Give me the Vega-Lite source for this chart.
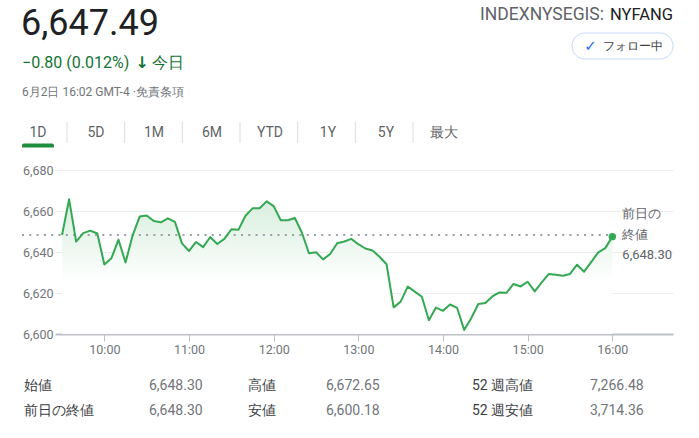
{
  "$schema": "https://vega.github.io/schema/vega-lite/v6.json",
  "width": 618,
  "height": 164,
  "autosize": {"type": "none"},
  "padding": {"left": 55, "top": 170, "right": 26, "bottom": 104},
  "background": "#ffffff",
  "config": {
    "view": {"stroke": null},
    "font": "Roboto"
  },
  "resolve": {"scale": {"x": "independent", "y": "independent"}, "axis": {"x": "independent", "y": "independent"}},
  "layer": [
    {
      "data": {
        "values": [
          {"t": "2023-06-02T09:30:00", "v": 6648.3}, {"t": "2023-06-02T09:35:00", "v": 6665.7}, {"t": "2023-06-02T09:40:00", "v": 6645.1}, {"t": "2023-06-02T09:45:00", "v": 6649.2},
          {"t": "2023-06-02T09:50:00", "v": 6650.4}, {"t": "2023-06-02T09:55:00", "v": 6649.0}, {"t": "2023-06-02T10:00:00", "v": 6633.9}, {"t": "2023-06-02T10:05:00", "v": 6637.0},
          {"t": "2023-06-02T10:10:00", "v": 6646.0}, {"t": "2023-06-02T10:15:00", "v": 6634.9}, {"t": "2023-06-02T10:20:00", "v": 6648.0}, {"t": "2023-06-02T10:25:00", "v": 6657.3},
          {"t": "2023-06-02T10:30:00", "v": 6657.8}, {"t": "2023-06-02T10:35:00", "v": 6655.1}, {"t": "2023-06-02T10:40:00", "v": 6654.5}, {"t": "2023-06-02T10:45:00", "v": 6656.4},
          {"t": "2023-06-02T10:50:00", "v": 6654.7}, {"t": "2023-06-02T10:55:00", "v": 6644.2}, {"t": "2023-06-02T11:00:00", "v": 6640.5}, {"t": "2023-06-02T11:05:00", "v": 6644.9},
          {"t": "2023-06-02T11:10:00", "v": 6642.4}, {"t": "2023-06-02T11:15:00", "v": 6647.3}, {"t": "2023-06-02T11:20:00", "v": 6643.9}, {"t": "2023-06-02T11:25:00", "v": 6646.4},
          {"t": "2023-06-02T11:30:00", "v": 6651.1}, {"t": "2023-06-02T11:35:00", "v": 6650.8}, {"t": "2023-06-02T11:40:00", "v": 6657.7}, {"t": "2023-06-02T11:45:00", "v": 6661.3},
          {"t": "2023-06-02T11:50:00", "v": 6661.3}, {"t": "2023-06-02T11:55:00", "v": 6664.7}, {"t": "2023-06-02T12:00:00", "v": 6662.4}, {"t": "2023-06-02T12:05:00", "v": 6655.5},
          {"t": "2023-06-02T12:10:00", "v": 6655.5}, {"t": "2023-06-02T12:15:00", "v": 6656.6}, {"t": "2023-06-02T12:20:00", "v": 6649.4}, {"t": "2023-06-02T12:25:00", "v": 6639.4},
          {"t": "2023-06-02T12:30:00", "v": 6639.9}, {"t": "2023-06-02T12:35:00", "v": 6636.4}, {"t": "2023-06-02T12:40:00", "v": 6639.0}, {"t": "2023-06-02T12:45:00", "v": 6644.3},
          {"t": "2023-06-02T12:50:00", "v": 6645.1}, {"t": "2023-06-02T12:55:00", "v": 6646.4}, {"t": "2023-06-02T13:00:00", "v": 6643.8}, {"t": "2023-06-02T13:05:00", "v": 6641.7},
          {"t": "2023-06-02T13:10:00", "v": 6640.7}, {"t": "2023-06-02T13:15:00", "v": 6637.7}, {"t": "2023-06-02T13:20:00", "v": 6634.0}, {"t": "2023-06-02T13:25:00", "v": 6613.0},
          {"t": "2023-06-02T13:30:00", "v": 6615.8}, {"t": "2023-06-02T13:35:00", "v": 6623.1}, {"t": "2023-06-02T13:40:00", "v": 6620.7}, {"t": "2023-06-02T13:45:00", "v": 6618.2},
          {"t": "2023-06-02T13:50:00", "v": 6606.7}, {"t": "2023-06-02T13:55:00", "v": 6612.9}, {"t": "2023-06-02T14:00:00", "v": 6611.3}, {"t": "2023-06-02T14:05:00", "v": 6614.4},
          {"t": "2023-06-02T14:10:00", "v": 6612.7}, {"t": "2023-06-02T14:15:00", "v": 6602.0}, {"t": "2023-06-02T14:20:00", "v": 6607.7}, {"t": "2023-06-02T14:25:00", "v": 6614.6},
          {"t": "2023-06-02T14:30:00", "v": 6615.1}, {"t": "2023-06-02T14:35:00", "v": 6618.3}, {"t": "2023-06-02T14:40:00", "v": 6620.3}, {"t": "2023-06-02T14:45:00", "v": 6620.1},
          {"t": "2023-06-02T14:50:00", "v": 6624.4}, {"t": "2023-06-02T14:55:00", "v": 6623.2}, {"t": "2023-06-02T15:00:00", "v": 6625.5}, {"t": "2023-06-02T15:05:00", "v": 6620.8},
          {"t": "2023-06-02T15:10:00", "v": 6625.2}, {"t": "2023-06-02T15:15:00", "v": 6629.3}, {"t": "2023-06-02T15:20:00", "v": 6628.9}, {"t": "2023-06-02T15:25:00", "v": 6628.4},
          {"t": "2023-06-02T15:30:00", "v": 6629.3}, {"t": "2023-06-02T15:35:00", "v": 6633.8}, {"t": "2023-06-02T15:40:00", "v": 6630.4}, {"t": "2023-06-02T15:45:00", "v": 6635.1},
          {"t": "2023-06-02T15:50:00", "v": 6639.8}, {"t": "2023-06-02T15:55:00", "v": 6641.9}, {"t": "2023-06-02T16:00:00", "v": 6647.49}
        ]
      },
      "encoding": {
        "x": {
          "field": "t", "type": "temporal",
          "scale": {"domain": ["2023-06-02T09:25:00", "2023-06-02T16:43:00"]},
          "axis": {"format": "%H:%M", "values": ["2023-06-02T10:00:00", "2023-06-02T11:00:00", "2023-06-02T12:00:00", "2023-06-02T13:00:00", "2023-06-02T14:00:00", "2023-06-02T15:00:00", "2023-06-02T16:00:00"],
                   "labelColor": "#70757a", "labelFontSize": 12.5,
                   "tickColor": "#bdc1c6", "tickSize": 7, "domainColor": "#bdc1c6", "domainWidth": 2, "grid": false,
                   "labelPadding": 2, "title": null, "labelFlush": false}
        },
        "y": {
          "field": "v", "type": "quantitative",
          "scale": {"domain": [6600, 6680], "zero": false, "nice": false},
          "axis": {"values": [6600, 6620, 6640, 6660, 6680], "format": ",d", "labelColor": "#70757a", "labelFontSize": 12.5,
                   "ticks": false, "domain": false, "grid": true, "gridColor": "#ececec", "gridWidth": 1, "labelPadding": 2, "title": null}
        }
      },
      "layer": [
        {
          "mark": {"type": "area", "fill": {"gradient": "linear", "x1": 0, "y1": 0, "x2": 0, "y2": 1,
                    "stops": [{"offset": 0, "color": "#d7eedd"}, {"offset": 0.62, "color": "#ffffff"}]}},
          "encoding": {"y2": {"datum": 6600}}
        },
        {
          "data": {"values": [{"from": "2023-06-02T09:01:36", "to": "2023-06-02T16:00:00", "prevClose": 6648.3}]},
          "mark": {"type": "rule", "stroke": "#9aa0a6", "strokeWidth": 2, "strokeDash": [2, 5.3]},
          "encoding": {
            "x": {"field": "from", "type": "temporal"},
            "x2": {"field": "to"},
            "y": {"field": "prevClose", "type": "quantitative"}
          }
        },
        {
          "mark": {"type": "line", "stroke": "#34a853", "strokeWidth": 2, "strokeJoin": "round"},
          "encoding": {}
        },
        {
          "transform": [{"filter": "datum.v == 6647.49"}],
          "mark": {"type": "circle", "size": 55, "color": "#34a853", "opacity": 1},
          "encoding": {}
        },
        {
          "data": {"values": [{"to": "2023-06-02T16:00:00", "prevClose": 6648.3, "label": "前日の"}]},
          "mark": {"type": "text", "align": "left", "baseline": "middle", "dx": 10, "dy": -20.5, "fontSize": 13, "color": "#5f6368"},
          "encoding": {"x": {"field": "to", "type": "temporal"}, "y": {"field": "prevClose", "type": "quantitative"}, "text": {"field": "label"}}
        },
        {
          "data": {"values": [{"to": "2023-06-02T16:00:00", "prevClose": 6648.3, "label": "終値"}]},
          "mark": {"type": "text", "align": "left", "baseline": "middle", "dx": 10, "fontSize": 13, "color": "#5f6368"},
          "encoding": {"x": {"field": "to", "type": "temporal"}, "y": {"field": "prevClose", "type": "quantitative"}, "text": {"field": "label"}}
        },
        {
          "data": {"values": [{"to": "2023-06-02T16:00:00", "prevClose": 6648.3, "label": "6,648.30"}]},
          "mark": {"type": "text", "align": "left", "baseline": "middle", "dx": 10, "dy": 20.5, "fontSize": 13, "color": "#5f6368"},
          "encoding": {"x": {"field": "to", "type": "temporal"}, "y": {"field": "prevClose", "type": "quantitative"}, "text": {"field": "label"}}
        }
      ]
    },
    {
      "data": {"values": [{}]},
      "layer": [
        {
          "mark": {"type": "text", "align": "left", "baseline": "alphabetic", "fontSize": 36, "color": "#202124"},
          "encoding": {
            "x": {"datum": 21, "type": "quantitative", "scale": {"domain": [0, 699], "range": [-55, 644], "nice": false, "zero": false}, "axis": null},
            "y": {"datum": 35, "type": "quantitative", "scale": {"domain": [0, 438], "range": [-170, 268], "nice": false, "zero": false}, "axis": null},
            "text": {"value": "6,647.49"}
          }
        },
        {
          "mark": {"type": "text", "align": "left", "baseline": "alphabetic", "fontSize": 16, "color": "#137333"},
          "encoding": {
            "x": {"datum": 22, "type": "quantitative", "scale": {"domain": [0, 699], "range": [-55, 644], "nice": false, "zero": false}, "axis": null},
            "y": {"datum": 68, "type": "quantitative", "scale": {"domain": [0, 438], "range": [-170, 268], "nice": false, "zero": false}, "axis": null},
            "text": {"value": "−0.80 (0.012%)"}
          }
        },
        {
          "mark": {"type": "text", "align": "center", "baseline": "middle", "fontSize": 16, "fontWeight": "bold", "font": "DejaVu Sans", "color": "#137333"},
          "encoding": {
            "x": {"datum": 142, "type": "quantitative", "scale": {"domain": [0, 699], "range": [-55, 644], "nice": false, "zero": false}, "axis": null},
            "y": {"datum": 63, "type": "quantitative", "scale": {"domain": [0, 438], "range": [-170, 268], "nice": false, "zero": false}, "axis": null},
            "text": {"value": "↓"}
          }
        },
        {
          "mark": {"type": "text", "align": "left", "baseline": "alphabetic", "fontSize": 16, "color": "#137333"},
          "encoding": {
            "x": {"datum": 152, "type": "quantitative", "scale": {"domain": [0, 699], "range": [-55, 644], "nice": false, "zero": false}, "axis": null},
            "y": {"datum": 68, "type": "quantitative", "scale": {"domain": [0, 438], "range": [-170, 268], "nice": false, "zero": false}, "axis": null},
            "text": {"value": "今日"}
          }
        },
        {
          "mark": {"type": "text", "align": "left", "baseline": "alphabetic", "fontSize": 12, "color": "#70757a"},
          "encoding": {
            "x": {"datum": 22, "type": "quantitative", "scale": {"domain": [0, 699], "range": [-55, 644], "nice": false, "zero": false}, "axis": null},
            "y": {"datum": 96, "type": "quantitative", "scale": {"domain": [0, 438], "range": [-170, 268], "nice": false, "zero": false}, "axis": null},
            "text": {"value": "6月2日 16:02 GMT-4 ·免責条項"}
          }
        },
        {
          "mark": {"type": "text", "align": "right", "baseline": "alphabetic", "fontSize": 17.5, "color": "#5f6368"},
          "encoding": {
            "x": {"datum": 604, "type": "quantitative", "scale": {"domain": [0, 699], "range": [-55, 644], "nice": false, "zero": false}, "axis": null},
            "y": {"datum": 19.5, "type": "quantitative", "scale": {"domain": [0, 438], "range": [-170, 268], "nice": false, "zero": false}, "axis": null},
            "text": {"value": "INDEXNYSEGIS:"}
          }
        },
        {
          "mark": {"type": "text", "align": "right", "baseline": "alphabetic", "fontSize": 16.5, "color": "#202124"},
          "encoding": {
            "x": {"datum": 673, "type": "quantitative", "scale": {"domain": [0, 699], "range": [-55, 644], "nice": false, "zero": false}, "axis": null},
            "y": {"datum": 19.5, "type": "quantitative", "scale": {"domain": [0, 438], "range": [-170, 268], "nice": false, "zero": false}, "axis": null},
            "text": {"value": "NYFANG"}
          }
        },
        {
          "mark": {"type": "rect", "fill": "#ffffff", "stroke": "#c6dafc", "strokeWidth": 1, "cornerRadius": 13},
          "encoding": {
            "x": {"datum": 572, "type": "quantitative", "scale": {"domain": [0, 699], "range": [-55, 644], "nice": false, "zero": false}, "axis": null},
            "x2": {"datum": 673},
            "y": {"datum": 33, "type": "quantitative", "scale": {"domain": [0, 438], "range": [-170, 268], "nice": false, "zero": false}, "axis": null},
            "y2": {"datum": 59}
          }
        },
        {
          "mark": {"type": "text", "align": "center", "baseline": "middle", "fontSize": 15, "font": "DejaVu Sans", "color": "#1a73e8"},
          "encoding": {
            "x": {"datum": 590.5, "type": "quantitative", "scale": {"domain": [0, 699], "range": [-55, 644], "nice": false, "zero": false}, "axis": null},
            "y": {"datum": 46, "type": "quantitative", "scale": {"domain": [0, 438], "range": [-170, 268], "nice": false, "zero": false}, "axis": null},
            "text": {"value": "✓"}
          }
        },
        {
          "mark": {"type": "text", "align": "left", "baseline": "middle", "fontSize": 12, "color": "#3c4043"},
          "encoding": {
            "x": {"datum": 603, "type": "quantitative", "scale": {"domain": [0, 699], "range": [-55, 644], "nice": false, "zero": false}, "axis": null},
            "y": {"datum": 46, "type": "quantitative", "scale": {"domain": [0, 438], "range": [-170, 268], "nice": false, "zero": false}, "axis": null},
            "text": {"value": "フォロー中"}
          }
        },
        {
          "mark": {"type": "rect", "fill": "#1e8e3e", "cornerRadiusTopLeft": 3, "cornerRadiusTopRight": 3},
          "encoding": {
            "x": {"datum": 22, "type": "quantitative", "scale": {"domain": [0, 699], "range": [-55, 644], "nice": false, "zero": false}, "axis": null},
            "x2": {"datum": 54},
            "y": {"datum": 143.5, "type": "quantitative", "scale": {"domain": [0, 438], "range": [-170, 268], "nice": false, "zero": false}, "axis": null},
            "y2": {"datum": 147.5}
          }
        }
      ]
    },
    {
      "data": {"values": [{"tab": "1D"}, {"tab": "5D"}, {"tab": "1M"}, {"tab": "6M"}, {"tab": "YTD"}, {"tab": "1Y"}, {"tab": "5Y"}, {"tab": "最大"}]},
      "mark": {"type": "text", "align": "center", "baseline": "middle", "fontSize": 14, "color": "#5f6368"},
      "encoding": {
        "x": {"field": "tab", "type": "nominal", "scale": {"type": "point", "domain": ["1D", "5D", "1M", "6M", "YTD", "1Y", "5Y", "最大"], "range": [-17, 389], "padding": 0}, "axis": null},
        "y": {"datum": 133, "type": "quantitative", "scale": {"domain": [0, 438], "range": [-170, 268], "nice": false, "zero": false}, "axis": null},
        "text": {"field": "tab"}
      }
    },
    {
      "data": {"values": [{"after": "1D"}, {"after": "5D"}, {"after": "1M"}, {"after": "6M"}, {"after": "YTD"}, {"after": "1Y"}, {"after": "5Y"}]},
      "mark": {"type": "rule", "stroke": "#dadce0", "strokeWidth": 1},
      "encoding": {
        "x": {"field": "after", "type": "nominal", "scale": {"type": "point", "domain": ["1D", "5D", "1M", "6M", "YTD", "1Y", "5Y"], "range": [12, 358], "padding": 0}, "axis": null},
        "y": {"datum": 122, "type": "quantitative", "scale": {"domain": [0, 438], "range": [-170, 268], "nice": false, "zero": false}, "axis": null},
        "y2": {"datum": 143}
      }
    },
    {
      "data": {"values": [
        {"col": "a", "row": "1", "label": "始値", "value": "6,648.30"},
        {"col": "a", "row": "2", "label": "前日の終値", "value": "6,648.30"},
        {"col": "b", "row": "1", "label": "高値", "value": "6,672.65"},
        {"col": "b", "row": "2", "label": "安値", "value": "6,600.18"},
        {"col": "c", "row": "1", "label": "52 週高値", "value": "7,266.48"},
        {"col": "c", "row": "2", "label": "52 週安値", "value": "3,714.36"}
      ]},
      "encoding": {
        "y": {"field": "row", "type": "nominal", "scale": {"type": "point", "domain": ["1", "2"], "range": [216, 241], "padding": 0}, "axis": null}
      },
      "layer": [
        {
          "transform": [{"filter": {"field": "col", "equal": "a"}}],
          "mark": {"type": "text", "align": "left", "baseline": "middle", "fontSize": 14, "color": "#3c4043"},
          "encoding": {"x": {"datum": 23.5, "type": "quantitative", "scale": {"domain": [0, 699], "range": [-55, 644], "nice": false, "zero": false}, "axis": null}, "text": {"field": "label"}}
        },
        {
          "transform": [{"filter": {"field": "col", "equal": "a"}}],
          "mark": {"type": "text", "align": "left", "baseline": "middle", "fontSize": 14, "color": "#70757a"},
          "encoding": {"x": {"datum": 149, "type": "quantitative", "scale": {"domain": [0, 699], "range": [-55, 644], "nice": false, "zero": false}, "axis": null}, "text": {"field": "value"}}
        },
        {
          "transform": [{"filter": {"field": "col", "equal": "b"}}],
          "mark": {"type": "text", "align": "left", "baseline": "middle", "fontSize": 14, "color": "#3c4043"},
          "encoding": {"x": {"datum": 248, "type": "quantitative", "scale": {"domain": [0, 699], "range": [-55, 644], "nice": false, "zero": false}, "axis": null}, "text": {"field": "label"}}
        },
        {
          "transform": [{"filter": {"field": "col", "equal": "b"}}],
          "mark": {"type": "text", "align": "left", "baseline": "middle", "fontSize": 14, "color": "#70757a"},
          "encoding": {"x": {"datum": 326, "type": "quantitative", "scale": {"domain": [0, 699], "range": [-55, 644], "nice": false, "zero": false}, "axis": null}, "text": {"field": "value"}}
        },
        {
          "transform": [{"filter": {"field": "col", "equal": "c"}}],
          "mark": {"type": "text", "align": "left", "baseline": "middle", "fontSize": 14, "color": "#3c4043"},
          "encoding": {"x": {"datum": 472, "type": "quantitative", "scale": {"domain": [0, 699], "range": [-55, 644], "nice": false, "zero": false}, "axis": null}, "text": {"field": "label"}}
        },
        {
          "transform": [{"filter": {"field": "col", "equal": "c"}}],
          "mark": {"type": "text", "align": "left", "baseline": "middle", "fontSize": 14, "color": "#70757a"},
          "encoding": {"x": {"datum": 590, "type": "quantitative", "scale": {"domain": [0, 699], "range": [-55, 644], "nice": false, "zero": false}, "axis": null}, "text": {"field": "value"}}
        }
      ]
    }
  ]
}
